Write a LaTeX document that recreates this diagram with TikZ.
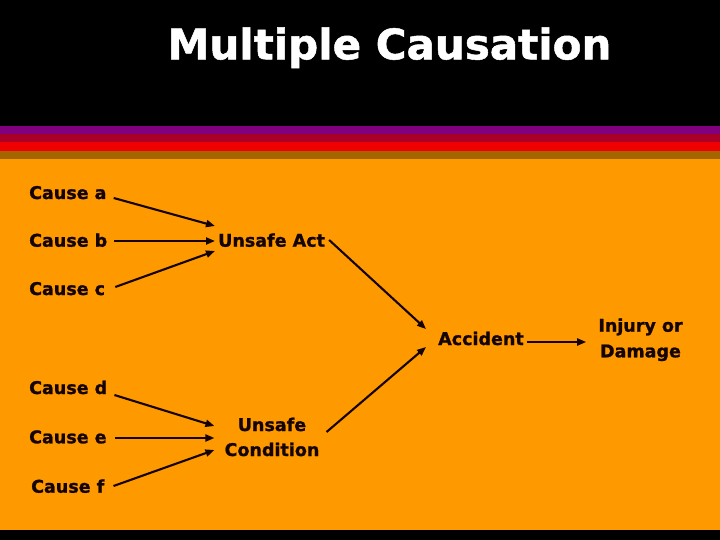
\documentclass[tikz,border=0pt]{standalone}
\usepackage{fontspec}
\setmainfont{DejaVu Sans}[BoldFeatures={FakeBold=1.2}]
\usetikzlibrary{arrows.meta}
\definecolor{bgorange}{HTML}{FF9900}
\definecolor{stpurple}{HTML}{800080}
\definecolor{stdarkred}{HTML}{AA0028}
\definecolor{stred}{HTML}{F00000}
\definecolor{stbrown}{HTML}{A46400}
\definecolor{inkcol}{HTML}{140500}
\tikzset{
  lbl/.style={inner sep=0pt, text=inkcol, font=\bfseries\fontsize{17.5}{21}\selectfont},
  arr/.style={draw=inkcol, line width=2.1pt, -{Triangle[length=9pt,width=7pt]}},
  ttl/.style={inner sep=0pt, text=white, font=\bfseries\fontsize{42}{48}\selectfont}
}
\begin{document}
\begin{tikzpicture}[x=1pt,y=-1pt]
\useasboundingbox (0,0) rectangle (720,540);
% background bands
\fill[black] (0,0) rectangle (720,126);
\fill[stpurple] (0,126) rectangle (720,134);
\fill[stdarkred] (0,134) rectangle (720,142);
\fill[stred] (0,142) rectangle (720,151);
\fill[stbrown] (0,151) rectangle (720,159);
\fill[bgorange] (0,159) rectangle (720,530);
\fill[black] (0,530) rectangle (720,540);
% title
\node[ttl, anchor=base] (title) at (389.5,59.3) {Multiple Causation};
% nodes
\node[lbl, anchor=base west] (ca) at (29,199) {Cause a};
\node[lbl, anchor=base west] (cb) at (29,246.7) {Cause b};
\node[lbl, anchor=base west] (cc) at (29,295) {Cause c};
\node[lbl, anchor=base west] (cd) at (29,394) {Cause d};
\node[lbl, anchor=base west] (ce) at (29,443.3) {Cause e};
\node[lbl, anchor=base west] (cf) at (31,492.7) {Cause f};
\node[lbl, anchor=base west] (act) at (218,246.7) {Unsafe Act};
\node[lbl, anchor=base] (condA) at (272,431) {Unsafe};
\node[lbl, anchor=base] (condB) at (272,456) {Condition};
\node[lbl, anchor=base west] (acc) at (438,345) {Accident};
\node[lbl, anchor=base] (injA) at (640.5,331.7) {Injury or};
\node[lbl, anchor=base] (injB) at (640.5,357.3) {Damage};
% connectors
\draw[arr] ([shift={(7,-1)}]ca.base east) -- ([shift={(-3,-20.7)}]act.base west);
\draw[arr] ([shift={(7,-5.7)}]cb.base east) -- ([shift={(-3,-5.7)}]act.base west);
\draw[arr] ([shift={(10,-8)}]cc.base east) -- ([shift={(-3,4.3)}]act.base west);
\draw[arr] ([shift={(7,1)}]cd.base east) -- ([shift={(-10,-30)}]condB.base west);
\draw[arr] ([shift={(8,-5.3)}]ce.base east) -- ([shift={(-10,-18)}]condB.base west);
\draw[arr] ([shift={(9,-6.7)}]cf.base east) -- ([shift={(-10,-6)}]condB.base west);
\draw[arr] ([shift={(4,-6.7)}]act.base east) -- ([shift={(-12,-16)}]acc.base west);
\draw[arr] ([shift={(7,-24)}]condB.base east) -- ([shift={(-12,2)}]acc.base west);
\draw[arr] ([shift={(3,-3)}]acc.base east) -- ([shift={(-12,10.3)}]injA.base west);
\end{tikzpicture}
\end{document}
